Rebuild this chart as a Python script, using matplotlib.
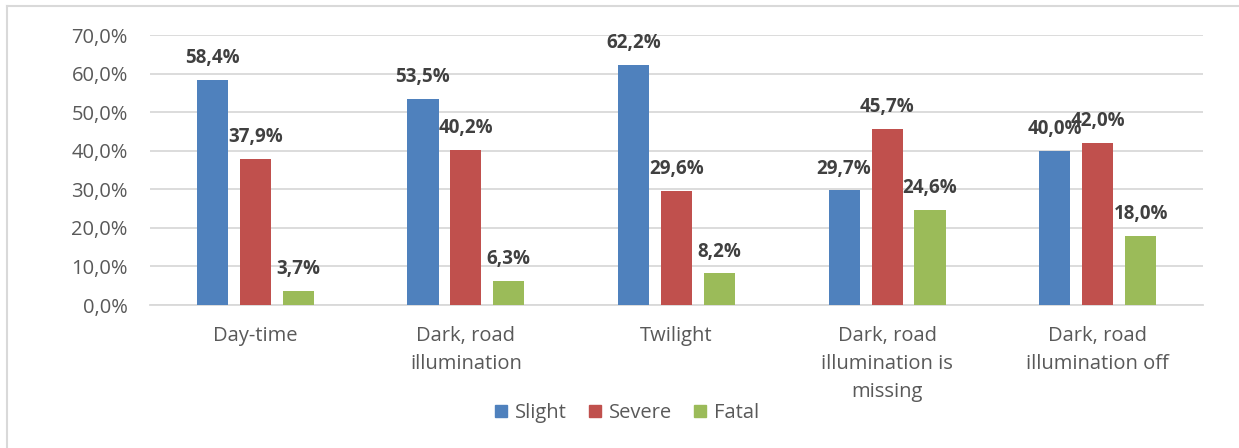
import matplotlib
matplotlib.use("Agg")
import matplotlib.pyplot as plt
from matplotlib.lines import Line2D
import numpy as np

categories = ["Day-time", "Dark, road\nillumination", "Twilight",
              "Dark, road\nillumination is\nmissing", "Dark, road\nillumination off"]
series_names = ["Slight", "Severe", "Fatal"]
slight = [58.4, 53.5, 62.2, 29.7, 40.0]
severe = [37.9, 40.2, 29.6, 45.7, 42.0]
fatal = [3.7, 6.3, 8.2, 24.6, 18.0]
colors = ["#4F81BD", "#C0504D", "#9BBB59"]
yticks = [0, 10, 20, 30, 40, 50, 60, 70]

plt.rcParams['font.family'] = ['Open Sans', 'DejaVu Sans']

fig = plt.figure(figsize=(12.39, 4.48), dpi=100)
ax = fig.add_axes([150/1239, 1-305/448, (1203-150)/1239, 270/448])

x = np.arange(len(categories))
width = 0.148
offset = 0.204
for i, (vals, name, c) in enumerate(zip([slight, severe, fatal], series_names, colors)):
    pos = x + (i - 1) * offset
    ax.bar(pos, vals, width, color=c, label=name, zorder=3)
    for xp, v in zip(pos, vals):
        ax.annotate(f"{v:.1f}%".replace(".", ","), (xp, v), xytext=(0, 8.5),
                    textcoords="offset points", ha="center", va="bottom",
                    fontsize=13.5, fontweight="bold", color="#404040")

ax.set_xlim(-0.5, len(categories) - 0.5)
ax.set_ylim(0, 70)
ax.set_yticks(yticks)
ax.set_yticklabels([f"{t:.1f}%".replace(".", ",") for t in yticks], fontsize=14.5, color="#595959")
ax.set_xticks(x)
ax.set_xticklabels(categories, fontsize=14.5, color="#595959", linespacing=1.55)
ax.tick_params(axis="both", length=0)
ax.tick_params(axis="x", pad=15)
ax.tick_params(axis="y", pad=16)
ax.grid(axis="y", color="#D9D9D9", linewidth=1.3, zorder=0)
for s in ["top", "right", "left"]:
    ax.spines[s].set_visible(False)
ax.spines["bottom"].set_color("#D9D9D9")
ax.spines["bottom"].set_linewidth(1.3)

handles = [plt.Rectangle((0, 0), 1, 1, color=c) for c in colors]
leg = fig.legend(handles, series_names, loc="center", bbox_to_anchor=(0.506, 1-413/448),
                 ncol=3, frameon=False, fontsize=14.5, handlelength=0.6, handleheight=0.6,
                 handletextpad=0.4, columnspacing=1.1)
for t in leg.get_texts():
    t.set_color("#595959")

# outer chart border (left and top visible)
fig.add_artist(Line2D([7/1239, 7/1239], [0, 1-6/448], color="#D9D9D9", linewidth=1.5,
                      transform=fig.transFigure))
fig.add_artist(Line2D([7/1239, 1], [1-6/448, 1-6/448], color="#D9D9D9", linewidth=1.5,
                      transform=fig.transFigure))

fig.savefig("out.png", dpi=100)
